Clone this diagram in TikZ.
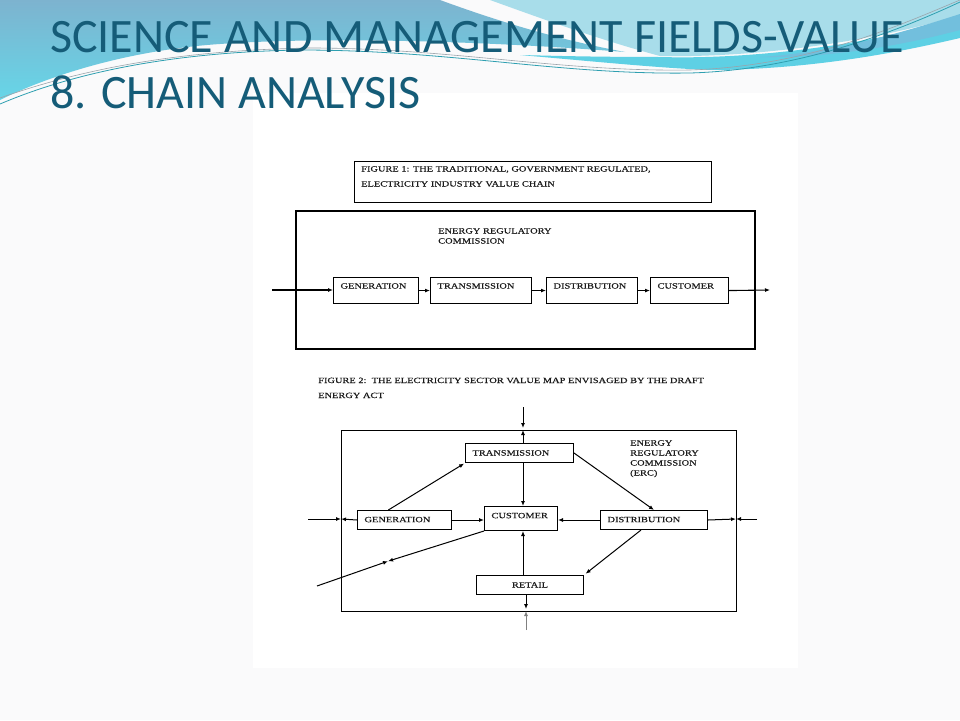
\documentclass[tikz,border=0pt]{standalone}
\usepackage{fontspec}
\usetikzlibrary{arrows.meta,calc}
\newfontfamily\titlefont{Carlito}
\newfontfamily\figfont[FakeStretch=1.3,FakeBold=0.3]{Liberation Serif}
\definecolor{titleblue}{HTML}{155C78}
\definecolor{steel}{HTML}{7DB3CF}
\definecolor{cyanlow}{HTML}{66D6E8}
\definecolor{lightcyan}{HTML}{A8DDEA}
\definecolor{bandcyan}{HTML}{5ED0E4}
\definecolor{medblue}{HTML}{72BFDD}
\definecolor{thinteal}{HTML}{2E9FB0}
\definecolor{thingrey}{HTML}{9AA3AA}
\definecolor{pagebg}{HTML}{FAFAFB}
\definecolor{figtext}{HTML}{1A1A1A}
\begin{document}
\begin{tikzpicture}[x=1pt,y=-1pt,
  title/.style={font=\titlefont\fontsize{48}{56}\selectfont, text=titleblue, inner sep=0pt, anchor=base west},
  figlabel/.style={font=\figfont\fontsize{8}{10}\selectfont, text=figtext, inner sep=0pt, anchor=north west, align=left},
  boxA/.style={draw=black, line width=1.1pt, anchor=north west, inner xsep=7pt, inner ysep=0pt, align=left,
    font=\figfont\fontsize{8}{10}\selectfont, text=figtext, text height=11pt, text depth=15pt},
  boxB/.style={draw=black, line width=1pt, anchor=north west, inner xsep=7pt, inner ysep=0pt, align=left,
    font=\figfont\fontsize{8}{10}\selectfont, text=figtext, text height=12pt, text depth=7pt},
  frameA/.style={draw=black, anchor=north west, inner sep=0pt},
  arrA/.style={line width=1.1pt, -{Latex[length=5pt,width=4pt]}},
  arrB/.style={line width=1pt, -{Latex[length=5pt,width=4pt]}}
]
\useasboundingbox (0,0) rectangle (960,720);
% background
\fill[pagebg] (0,0) rectangle (960,720);
\fill[white] (253,93) rectangle (798,668);
% top waves
\shade[top color=steel, bottom color=cyanlow]
  (0,0) -- (440,0) .. controls (500,22) and (560,40) .. (625,52)
  .. controls (500,42) and (330,36) .. (220,44)
  .. controls (130,50) and (50,75) .. (0,100) -- cycle;
\fill[lightcyan] (490,0) -- (960,0) -- (960,15)
  .. controls (880,40) and (760,58) .. (660,56)
  .. controls (600,40) and (540,18) .. (490,0) -- cycle;
\fill[bandcyan] (520,55) .. controls (600,62) and (680,70) .. (720,70)
  .. controls (820,68) and (900,52) .. (960,38) -- (960,18)
  .. controls (880,42) and (760,60) .. (660,57)
  .. controls (600,57) and (560,56) .. (520,55) -- cycle;
\fill[medblue] (760,57) .. controls (840,52) and (910,30) .. (960,14) -- (960,30)
  .. controls (900,46) and (830,58) .. (760,57) -- cycle;
\draw[thinteal, line width=0.8pt] (0,104) .. controls (80,70) and (180,52) .. (300,50)
  .. controls (450,50) and (560,75) .. (690,73) .. controls (800,70) and (900,30) .. (960,2);
\draw[thingrey, line width=0.6pt] (0,98) .. controls (90,66) and (190,50) .. (310,48)
  .. controls (450,48) and (560,72) .. (690,70) .. controls (810,66) and (900,25) .. (960,0);
% title
\node[title] (title1) at (50,52) {SCIENCE AND MANAGEMENT FIELDS-VALUE};
\node[title] (title2) at (50,108) {8. CHAIN ANALYSIS};

% ---------- Figure 1 ----------
\node[frameA, line width=1pt, minimum width=357pt, minimum height=41pt] (cap1) at (354,161) {};
\node[figlabel, font=\figfont\fontsize{8}{15}\selectfont] (cap1text) at (361,166)
  {FIGURE 1: THE TRADITIONAL, GOVERNMENT REGULATED,\\ELECTRICITY INDUSTRY VALUE CHAIN};
\node[frameA, line width=2pt, minimum width=459pt, minimum height=138pt] (frame1) at (295,210) {};
\node[figlabel] (erc1) at (438,228) {ENERGY REGULATORY\\COMMISSION};
\node[boxA, text width=71pt] (gen1) at (333,277) {GENERATION};
\node[boxA, text width=87pt] (trans1) at (430,277) {TRANSMISSION};
\node[boxA, text width=77pt] (dist1) at (546,277) {DISTRIBUTION};
\node[boxA, text width=64pt] (cust1) at (650,277) {CUSTOMER};
\coordinate (in1) at (272,290);
\coordinate (out1) at (770,290);
\draw[arrA] (in1) -- (in1 -| gen1.west);
\draw[arrA] (gen1.east) -- (trans1.west);
\draw[arrA] (trans1.east) -- (dist1.west);
\draw[arrA] (dist1.east) -- (cust1.west);
\draw[arrA] (cust1.east) -- (out1);

% ---------- Figure 2 ----------
\node[figlabel, font=\figfont\fontsize{8}{15}\selectfont] (cap2text) at (318,377.5)
  {FIGURE 2:\ \ THE ELECTRICITY SECTOR VALUE MAP ENVISAGED BY THE DRAFT\\ENERGY ACT};
\node[frameA, line width=1.2pt, minimum width=395pt, minimum height=181pt] (frame2) at (341,430) {};
\node[figlabel] (erc2) at (630,440) {ENERGY\\REGULATORY\\COMMISSION\\(ERC)};
\node[boxB, text width=94pt] (trB) at (465,443) {TRANSMISSION};
\node[boxB, text width=80pt, text height=11.7pt, text depth=7.3pt] (genB) at (357,510) {GENERATION};
\node[boxB, text width=59pt, text height=11.7pt, text depth=12.3pt] (cusB) at (484,506) {CUSTOMER};
\node[boxB, text width=93pt, text height=11.7pt, text depth=7.3pt] (disB) at (600,510) {DISTRIBUTION};
\node[boxB, text width=93pt, align=center] (retB) at (476,575) {RETAIL};
\coordinate (vx) at (523,0);
\coordinate (topin) at (523,407);
\coordinate (topedge) at (523,430);
\coordinate (leftin) at (308,519);
\coordinate (leftedge) at (341,519);
\coordinate (rightin) at (757,519);
\coordinate (rightedge) at (736,519);
\coordinate (botedge) at (526,611);
\coordinate (botout) at (526,630);
\coordinate (blout) at (317,586);
\coordinate (blmid) at (388,561.2);
% external flows
\draw[arrB, shorten >=2pt] (topin) -- (topedge);
\draw[arrB] (trB.north -| vx) -- (topedge);
\draw[arrB] (leftin) -- (leftedge);
\draw[arrB] (genB.west) -- (leftedge);
\draw[arrB] (rightin) -- (rightedge);
\draw[arrB] (disB.east) -- (rightedge);
\draw[arrB, shorten >=2pt] (retB.south -| botedge) -- (botedge);
\draw[arrB, draw=gray] (botout) -- (botedge);
\draw[arrB] (blout) -- (blmid);
\draw[arrB] (cusB.south west) -- (blmid);
% internal flows
\draw[arrB, shorten >=1pt] ($(genB.north west)!0.33!(genB.north east)$) -- (trB.south west);
\draw[arrB] (trB.east) -- (disB.north);
\draw[arrB] (trB.south -| vx) -- (cusB.north -| vx);
\draw[arrB] (genB.east) -- (genB.east -| cusB.west);
\draw[arrB] (disB.west) -- (disB.west -| cusB.east);
\draw[arrB] (retB.north -| vx) -- (cusB.south -| vx);
\draw[arrB, shorten >=2pt] ($(disB.south west)!0.38!(disB.south east)$) -- (retB.north east);
\end{tikzpicture}
\end{document}
